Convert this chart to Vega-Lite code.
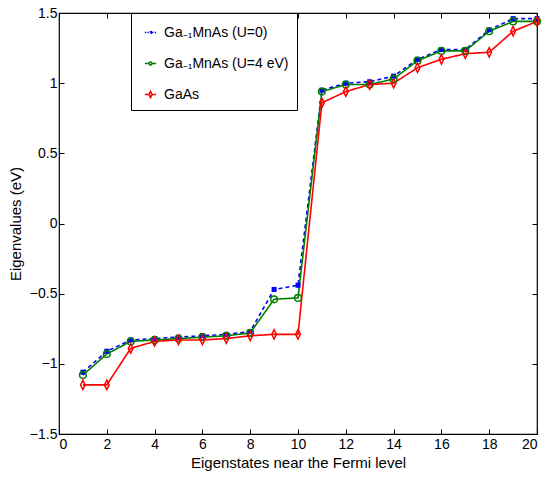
{
  "$schema": "https://vega.github.io/schema/vega-lite/v6.json",
  "autosize": "none",
  "width": 478,
  "height": 421,
  "padding": {"left": 59, "top": 13, "right": 13, "bottom": 47},
  "background": "white",
  "config": {
    "font": "Liberation Sans",
    "view": {"stroke": "black", "strokeWidth": 1.2},
    "axis": {
      "grid": false,
      "domain": false,
      "tickColor": "black",
      "tickSize": -5,
      "labelColor": "black",
      "labelFontSize": 14,
      "labelFont": "Liberation Sans",
      "titleFont": "Liberation Sans",
      "titleFontSize": 15,
      "titleFontWeight": "normal",
      "titleColor": "black"
    }
  },
  "data": {
    "values": [
      {"n": 1, "s": "Ga₋₁MnAs (U=0)", "v": -1.06},
      {"n": 2, "s": "Ga₋₁MnAs (U=0)", "v": -0.91},
      {"n": 3, "s": "Ga₋₁MnAs (U=0)", "v": -0.83},
      {"n": 4, "s": "Ga₋₁MnAs (U=0)", "v": -0.82},
      {"n": 5, "s": "Ga₋₁MnAs (U=0)", "v": -0.81},
      {"n": 6, "s": "Ga₋₁MnAs (U=0)", "v": -0.80},
      {"n": 7, "s": "Ga₋₁MnAs (U=0)", "v": -0.79},
      {"n": 8, "s": "Ga₋₁MnAs (U=0)", "v": -0.77},
      {"n": 9, "s": "Ga₋₁MnAs (U=0)", "v": -0.47},
      {"n": 10, "s": "Ga₋₁MnAs (U=0)", "v": -0.44},
      {"n": 11, "s": "Ga₋₁MnAs (U=0)", "v": 0.95},
      {"n": 12, "s": "Ga₋₁MnAs (U=0)", "v": 1.0},
      {"n": 13, "s": "Ga₋₁MnAs (U=0)", "v": 1.01},
      {"n": 14, "s": "Ga₋₁MnAs (U=0)", "v": 1.05},
      {"n": 15, "s": "Ga₋₁MnAs (U=0)", "v": 1.17},
      {"n": 16, "s": "Ga₋₁MnAs (U=0)", "v": 1.24},
      {"n": 17, "s": "Ga₋₁MnAs (U=0)", "v": 1.24},
      {"n": 18, "s": "Ga₋₁MnAs (U=0)", "v": 1.38},
      {"n": 19, "s": "Ga₋₁MnAs (U=0)", "v": 1.46},
      {"n": 20, "s": "Ga₋₁MnAs (U=0)", "v": 1.46},
      {"n": 1, "s": "Ga₋₁MnAs (U=4 eV)", "v": -1.08},
      {"n": 2, "s": "Ga₋₁MnAs (U=4 eV)", "v": -0.93},
      {"n": 3, "s": "Ga₋₁MnAs (U=4 eV)", "v": -0.84},
      {"n": 4, "s": "Ga₋₁MnAs (U=4 eV)", "v": -0.83},
      {"n": 5, "s": "Ga₋₁MnAs (U=4 eV)", "v": -0.82},
      {"n": 6, "s": "Ga₋₁MnAs (U=4 eV)", "v": -0.81},
      {"n": 7, "s": "Ga₋₁MnAs (U=4 eV)", "v": -0.80},
      {"n": 8, "s": "Ga₋₁MnAs (U=4 eV)", "v": -0.78},
      {"n": 9, "s": "Ga₋₁MnAs (U=4 eV)", "v": -0.54},
      {"n": 10, "s": "Ga₋₁MnAs (U=4 eV)", "v": -0.53},
      {"n": 11, "s": "Ga₋₁MnAs (U=4 eV)", "v": 0.94},
      {"n": 12, "s": "Ga₋₁MnAs (U=4 eV)", "v": 0.99},
      {"n": 13, "s": "Ga₋₁MnAs (U=4 eV)", "v": 0.99},
      {"n": 14, "s": "Ga₋₁MnAs (U=4 eV)", "v": 1.03},
      {"n": 15, "s": "Ga₋₁MnAs (U=4 eV)", "v": 1.16},
      {"n": 16, "s": "Ga₋₁MnAs (U=4 eV)", "v": 1.23},
      {"n": 17, "s": "Ga₋₁MnAs (U=4 eV)", "v": 1.23},
      {"n": 18, "s": "Ga₋₁MnAs (U=4 eV)", "v": 1.37},
      {"n": 19, "s": "Ga₋₁MnAs (U=4 eV)", "v": 1.44},
      {"n": 20, "s": "Ga₋₁MnAs (U=4 eV)", "v": 1.44},
      {"n": 1, "s": "GaAs", "v": -1.15},
      {"n": 2, "s": "GaAs", "v": -1.15},
      {"n": 3, "s": "GaAs", "v": -0.89},
      {"n": 4, "s": "GaAs", "v": -0.84},
      {"n": 5, "s": "GaAs", "v": -0.83},
      {"n": 6, "s": "GaAs", "v": -0.83},
      {"n": 7, "s": "GaAs", "v": -0.82},
      {"n": 8, "s": "GaAs", "v": -0.80},
      {"n": 9, "s": "GaAs", "v": -0.79},
      {"n": 10, "s": "GaAs", "v": -0.79},
      {"n": 11, "s": "GaAs", "v": 0.86},
      {"n": 12, "s": "GaAs", "v": 0.94},
      {"n": 13, "s": "GaAs", "v": 0.99},
      {"n": 14, "s": "GaAs", "v": 1.0},
      {"n": 15, "s": "GaAs", "v": 1.11},
      {"n": 16, "s": "GaAs", "v": 1.17},
      {"n": 17, "s": "GaAs", "v": 1.21},
      {"n": 18, "s": "GaAs", "v": 1.22},
      {"n": 19, "s": "GaAs", "v": 1.37},
      {"n": 20, "s": "GaAs", "v": 1.44}
    ]
  },
  "layer": [
    {
      "mark": {"type": "line", "strokeWidth": 1.6},
      "encoding": {
        "x": {"field": "n", "type": "quantitative", "scale": {"domain": [0, 20], "nice": false},
              "axis": {"values": [0,2,4,6,8,10,12,14,16,18,20], "title": "Eigenstates near the Fermi level", "titlePadding": 4, "labelPadding": 8}},
        "y": {"field": "v", "type": "quantitative", "scale": {"domain": [-1.5, 1.5], "nice": false, "zero": false},
              "axis": {"values": [-1.5,-1,-0.5,0,0.5,1,1.5], "format": "~g", "title": "Eigenvalues (eV)", "titlePadding": 6, "labelPadding": 7}},
        "color": {"field": "s", "type": "nominal", "title": null,
                  "scale": {"domain": ["Ga₋₁MnAs (U=0)", "Ga₋₁MnAs (U=4 eV)", "GaAs"], "range": ["#0000ff", "#008000", "#ff0000"]},
                  "legend": {"orient": "none", "legendX": 72, "legendY": 0, "strokeColor": "black", "fillColor": "white", "padding": 8, "labelFontSize": 14, "labelFont": "Liberation Sans", "labelColor": "black", "rowPadding": 12, "symbolSize": 420, "symbolStrokeWidth": 1.6, "labelOffset": 2, "cornerRadius": 0,
                             "encode": {"symbols": {"update": {
                               "shape": {"signal": "datum.value === 'GaAs' ? 'M-0.55,0L-0.15,0M0.15,0L0.55,0M0,-0.3L0.15,0L0,0.3L-0.15,0ZM0,-0.3L-0.15,0L0,0.3L0.15,0Z' : datum.value === 'Ga₋₁MnAs (U=0)' ? 'M-0.55,0L-0.42,0M-0.3,0L-0.17,0M0.17,0L0.3,0M0.42,0L0.55,0M-0.08,-0.08L0.08,-0.08L0.08,0.08L-0.08,0.08Z' : 'M-0.55,0L-0.14,0M0.14,0L0.55,0M0.14,0A0.14,0.14 0 1 1 -0.14,0A0.14,0.14 0 1 1 0.14,0ZM0.14,0A0.14,0.14 0 1 0 -0.14,0A0.14,0.14 0 1 0 0.14,0Z'"},
                               "strokeDash": {"value": [1, 0]}
                             }}}}},
        "strokeDash": {"field": "s", "type": "nominal", "legend": null,
                       "scale": {"domain": ["Ga₋₁MnAs (U=0)", "Ga₋₁MnAs (U=4 eV)", "GaAs"], "range": [[4, 3], [1, 0], [1, 0]]}}
      }
    },
    {
      "transform": [{"filter": "datum.s === 'Ga₋₁MnAs (U=0)'"}],
      "mark": {"type": "point", "shape": "square", "size": 25, "filled": true, "color": "#0000ff", "opacity": 1},
      "encoding": {
        "x": {"field": "n", "type": "quantitative", "axis": null},
        "y": {"field": "v", "type": "quantitative", "axis": null}
      }
    },
    {
      "transform": [{"filter": "datum.s === 'Ga₋₁MnAs (U=4 eV)'"}],
      "mark": {"type": "point", "shape": "circle", "size": 45, "filled": false, "stroke": "#008000", "strokeWidth": 1.5, "opacity": 1},
      "encoding": {
        "x": {"field": "n", "type": "quantitative", "axis": null},
        "y": {"field": "v", "type": "quantitative", "axis": null}
      }
    },
    {
      "transform": [{"filter": "datum.s === 'GaAs'"}],
      "mark": {"type": "point", "shape": "M0,-1.4L0.7,0L0,1.4L-0.7,0Z", "size": 45, "filled": false, "stroke": "#ff0000", "strokeWidth": 1.5, "opacity": 1},
      "encoding": {
        "x": {"field": "n", "type": "quantitative", "axis": null},
        "y": {"field": "v", "type": "quantitative", "axis": null}
      }
    },
    {
      "mark": {"type": "point", "opacity": 0},
      "encoding": {
        "x": {"field": "n", "type": "quantitative", "axis": {"orient": "top", "values": [0,2,4,6,8,10,12,14,16,18,20], "labels": false, "title": null}},
        "y": {"field": "v", "type": "quantitative", "axis": {"orient": "right", "values": [-1.5,-1,-0.5,0,0.5,1,1.5], "labels": false, "title": null}}
      }
    }
  ],
  "resolve": {"axis": {"x": "independent", "y": "independent"}}
}
